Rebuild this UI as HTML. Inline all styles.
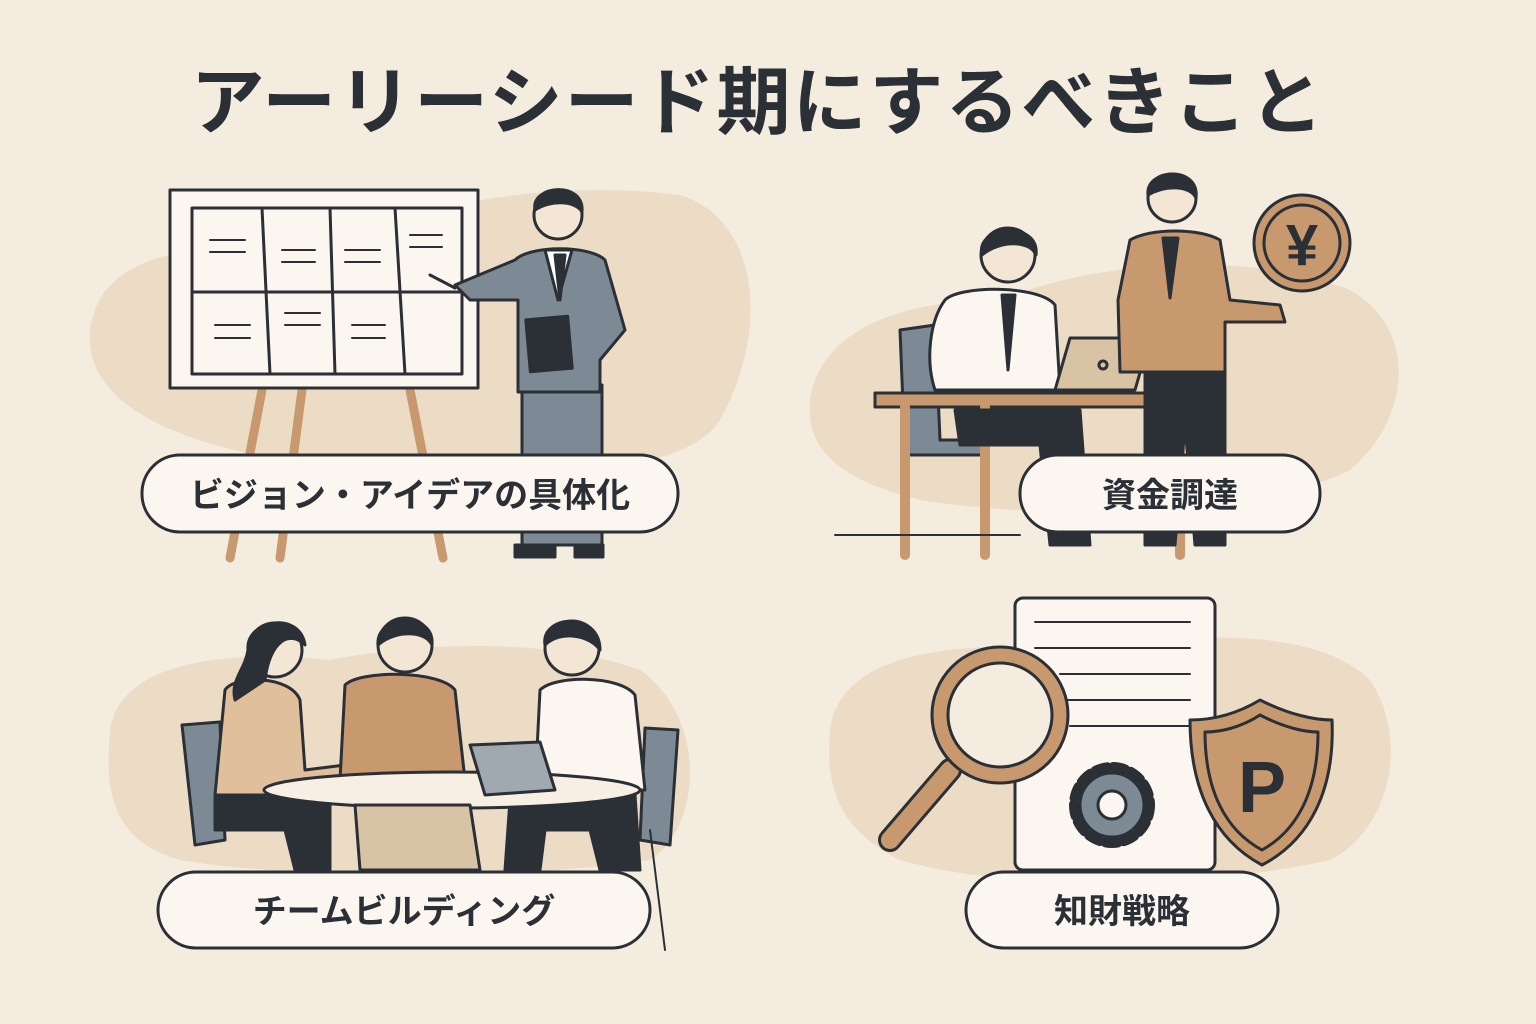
<!DOCTYPE html>
<html><head><meta charset="utf-8"><style>
html,body{margin:0;padding:0;background:#f5ece0;}
svg{display:block}
text{font-family:"Liberation Sans","Noto Sans CJK JP",sans-serif;font-weight:bold;fill:#2b2f36}
</style></head><body>
<svg width="1536" height="1024" viewBox="0 0 1536 1024" xmlns="http://www.w3.org/2000/svg">
<rect width="1536" height="1024" fill="#f5ece0"/>
<text x="758" y="128" font-size="74" text-anchor="middle" letter-spacing="2">アーリーシード期にするべきこと</text>

<!-- blobs -->
<path d="M90,330 C100,250 200,240 320,250 C420,200 560,180 680,195 C760,220 770,330 720,420 C690,470 560,480 420,470 C260,470 80,430 90,330Z" fill="#ecdcc6"/>
<path d="M810,400 C820,330 900,300 1000,300 C1100,260 1250,250 1350,290 C1420,330 1410,420 1350,470 C1250,520 1050,520 920,500 C840,480 805,450 810,400Z" fill="#ecdcc6"/>
<path d="M110,730 C120,660 230,650 330,660 C430,640 560,640 640,670 C710,720 700,830 650,860 C520,880 300,880 180,860 C110,840 105,790 110,730Z" fill="#ecdcc6"/>
<path d="M830,730 C840,650 960,640 1080,650 C1200,630 1320,630 1370,680 C1410,740 1390,830 1330,860 C1200,890 1000,890 900,860 C840,830 825,790 830,730Z" fill="#ecdcc6"/>

<g stroke="#2b2f36" stroke-width="3" stroke-linejoin="round" stroke-linecap="round">
<!-- Q1 easel -->
<line x1="262" y1="390" x2="230" y2="558" stroke="#c8996f" stroke-width="9"/>
<line x1="302" y1="390" x2="280" y2="558" stroke="#c8996f" stroke-width="9"/>
<line x1="410" y1="390" x2="443" y2="558" stroke="#c8996f" stroke-width="9"/>
<rect x="170" y="190" width="308" height="198" fill="#fbf7f0"/>
<rect x="192" y="208" width="270" height="166" fill="#fbf7f0"/>
<line x1="262" y1="208" x2="270" y2="374"/><line x1="330" y1="208" x2="335" y2="374"/><line x1="395" y1="208" x2="405" y2="374"/>
<line x1="192" y1="292" x2="462" y2="292"/>
<g stroke-width="2">
<line x1="210" y1="240" x2="245" y2="240"/><line x1="210" y1="252" x2="245" y2="252"/>
<line x1="282" y1="250" x2="315" y2="250"/><line x1="282" y1="262" x2="315" y2="262"/>
<line x1="345" y1="250" x2="380" y2="250"/><line x1="345" y1="262" x2="380" y2="262"/>
<line x1="410" y1="235" x2="442" y2="235"/><line x1="410" y1="247" x2="442" y2="247"/>
<line x1="215" y1="325" x2="250" y2="325"/><line x1="215" y1="338" x2="250" y2="338"/>
<line x1="285" y1="313" x2="320" y2="313"/><line x1="285" y1="325" x2="320" y2="325"/>
<line x1="352" y1="325" x2="385" y2="325"/><line x1="352" y1="338" x2="385" y2="338"/>
</g>
<!-- Q1 man -->
<rect x="522" y="385" width="80" height="160" fill="#7d8a96"/>
<path d="M515,260 C530,245 590,245 605,260 L625,330 L600,360 L600,392 L518,392 L518,300 L470,300 L455,285 Z" fill="#7d8a96"/>
<path d="M545,250 L558,300 L572,250Z" fill="#fff"/>
<path d="M555,255 L560,300 L565,255Z" fill="#2b2f36"/>
<rect x="528" y="318" width="42" height="52" fill="#2b2f36" transform="rotate(-5 549 344)"/>
<circle cx="558" cy="215" r="24" fill="#f3e6d4"/>
<path d="M535,210 C530,185 585,180 582,212 C575,200 550,200 535,210Z" fill="#2b2f36"/>
<path d="M455,288 L430,275" fill="none"/>
<rect x="515" y="545" width="40" height="12" fill="#2b2f36"/><rect x="575" y="545" width="28" height="12" fill="#2b2f36"/>

<!-- Q2 -->
<path d="M900,330 L935,325 L940,440 L985,440 L985,455 L905,455Z" fill="#7d8a96"/>
<rect x="875" y="393" width="320" height="14" fill="#c8996f"/>
<line x1="905" y1="407" x2="905" y2="555" stroke="#c8996f" stroke-width="10"/>
<line x1="985" y1="407" x2="985" y2="555" stroke="#c8996f" stroke-width="10"/>
<line x1="1180" y1="407" x2="1180" y2="555" stroke="#c8996f" stroke-width="10"/>
<path d="M945,300 C960,285 1040,285 1055,305 L1060,390 L935,390 C925,360 930,320 945,300Z" fill="#fbf7f0"/>
<path d="M955,410 L1080,410 L1090,545 L1050,545 L1040,445 L960,445Z" fill="#2b2f36"/>
<path d="M1002,295 L1008,370 L1015,295Z" fill="#2b2f36"/>
<circle cx="1008" cy="255" r="27" fill="#f3e6d4"/>
<path d="M982,255 C975,225 1040,220 1036,255 C1030,240 1000,240 982,255Z" fill="#2b2f36"/>
<path d="M1055,390 L1070,338 L1150,338 L1135,390Z" fill="#d8c3a5"/>
<circle cx="1103" cy="365" r="4" fill="none"/>
<path d="M1130,240 C1150,228 1200,228 1220,240 L1230,300 L1280,305 L1285,322 L1225,322 L1225,372 L1120,372 L1118,300 Z" fill="#c8996f"/>
<path d="M1145,372 L1225,372 L1225,545 L1195,545 L1185,425 L1175,545 L1145,545Z" fill="#2b2f36"/>
<path d="M1163,238 L1170,298 L1178,238Z" fill="#2b2f36"/>
<circle cx="1172" cy="198" r="24" fill="#f3e6d4"/>
<path d="M1148,195 C1145,168 1200,165 1196,198 C1190,185 1165,185 1148,195Z" fill="#2b2f36"/>
<circle cx="1302" cy="243" r="48" fill="#c8996f"/>
<circle cx="1302" cy="243" r="38" fill="none"/>
<line x1="835" y1="535" x2="1020" y2="535" stroke-width="2"/>

<!-- Q3 -->
<path d="M182,725 L220,722 L225,840 L195,845Z" fill="#7d8a96"/>
<path d="M645,728 L678,730 L670,845 L640,840Z" fill="#7d8a96"/>
<path d="M225,690 C235,675 290,675 300,700 L305,770 L345,765 L350,790 L290,795 L215,795 Z" fill="#e0bf9c"/>
<path d="M215,795 L330,800 L330,870 L295,870 L285,830 L215,830Z" fill="#2b2f36"/>
<circle cx="275" cy="650" r="27" fill="#f3e6d4"/>
<path d="M248,650 C245,620 300,610 305,645 C290,630 270,640 265,680 L235,700 C230,680 245,670 248,650Z" fill="#2b2f36"/>
<path d="M345,685 C360,670 440,670 455,690 L465,780 L340,780 Z" fill="#c8996f"/>
<circle cx="405" cy="645" r="27" fill="#f3e6d4"/>
<path d="M378,645 C375,615 435,610 432,645 C425,630 395,630 378,645Z" fill="#2b2f36"/>
<path d="M540,690 C555,675 620,675 635,695 L645,790 L535,790 Z" fill="#fbf7f0"/>
<path d="M510,800 L635,795 L640,870 L600,870 L590,830 L545,830 L540,870 L505,870Z" fill="#2b2f36"/>
<circle cx="572" cy="648" r="27" fill="#f3e6d4"/>
<path d="M545,645 C540,615 600,610 600,650 C590,635 560,630 545,645Z" fill="#2b2f36"/>
<ellipse cx="452" cy="790" rx="188" ry="18" fill="#f7efe4"/>
<path d="M355,805 L470,805 L480,870 L360,870Z" fill="#d8c3a5"/>
<path d="M470,745 L540,742 L555,790 L485,795Z" fill="#a0a8b0"/>
<line x1="650" y1="830" x2="665" y2="950" stroke-width="2"/>

<!-- Q4 -->
<rect x="1015" y="598" width="200" height="272" rx="8" fill="#fbf7f0"/>
<g stroke-width="2"><line x1="1035" y1="622" x2="1190" y2="622"/><line x1="1035" y1="648" x2="1190" y2="648"/><line x1="1060" y1="674" x2="1190" y2="674"/><line x1="1060" y1="700" x2="1190" y2="700"/><line x1="1070" y1="726" x2="1190" y2="726"/></g>
<circle cx="1112" cy="805" r="38" fill="#7d8a96" stroke-dasharray="12 6" stroke-width="10"/>
<circle cx="1112" cy="805" r="32" fill="#7d8a96"/>
<circle cx="1112" cy="805" r="14" fill="#fbf7f0"/>
<line x1="950" y1="770" x2="890" y2="840" stroke="#2b2f36" stroke-width="24"/>
<line x1="950" y1="770" x2="890" y2="840" stroke="#c8996f" stroke-width="18"/>
<circle cx="1000" cy="715" r="68" fill="#c8996f"/>
<circle cx="1000" cy="715" r="52" fill="#f5ece0"/>
<path d="M1260,700 C1290,715 1315,720 1332,720 C1335,790 1310,840 1262,865 C1215,840 1190,790 1190,720 C1210,720 1235,715 1260,700Z" fill="#c8996f"/>
<path d="M1260,715 C1285,728 1305,732 1318,732 C1318,790 1298,830 1262,850 C1225,830 1205,790 1205,732 C1220,732 1240,728 1260,715Z" fill="none"/>

<!-- pills -->
<rect x="142" y="455" width="536" height="77" rx="38" fill="#fbf7f0"/>
<rect x="1020" y="455" width="300" height="77" rx="38" fill="#fbf7f0"/>
<rect x="158" y="872" width="492" height="76" rx="38" fill="#fbf7f0"/>
<rect x="966" y="872" width="312" height="76" rx="38" fill="#fbf7f0"/>
</g>
<text x="1302" y="265" font-size="58" text-anchor="middle">¥</text>
<text x="1262" y="812" font-size="72" text-anchor="middle">P</text>
<text x="410" y="507" font-size="34" text-anchor="middle">ビジョン・アイデアの具体化</text>
<text x="1170" y="507" font-size="34" text-anchor="middle">資金調達</text>
<text x="404" y="923" font-size="34" text-anchor="middle">チームビルディング</text>
<text x="1122" y="923" font-size="34" text-anchor="middle">知財戦略</text>
</svg>
</body></html>
